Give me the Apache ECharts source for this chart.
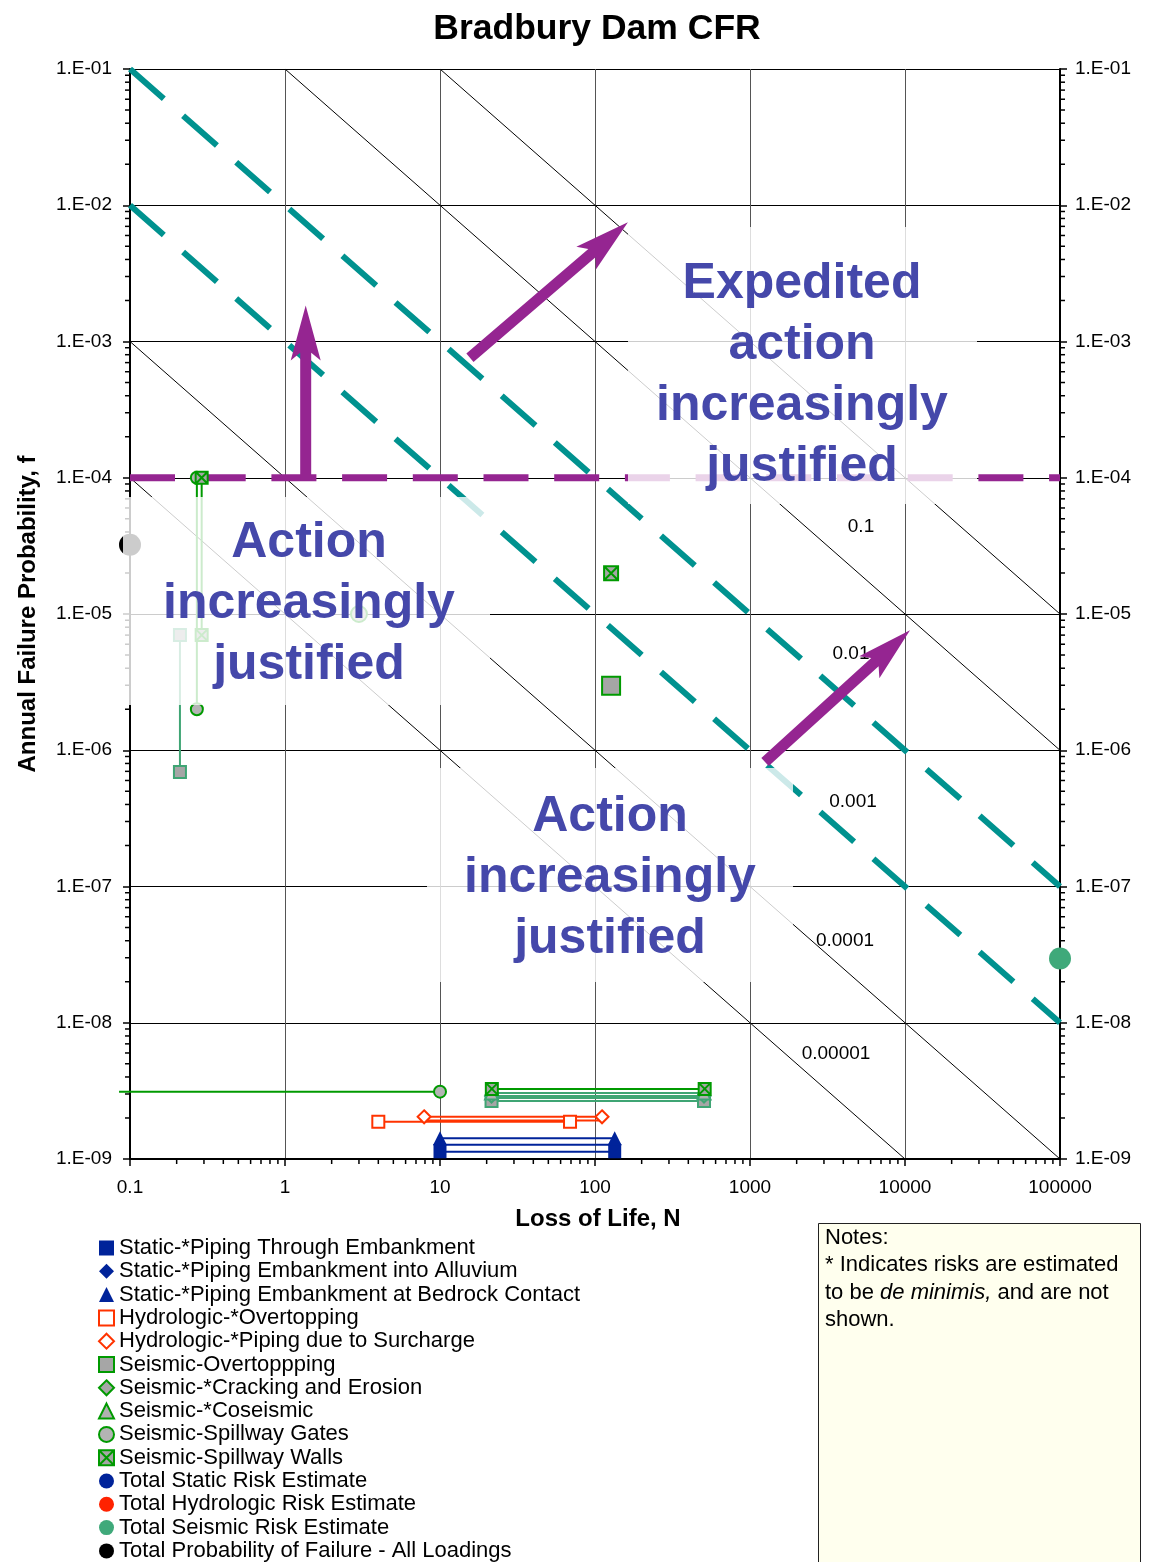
<!DOCTYPE html>
<html>
<head>
<meta charset="utf-8">
<script src="https://cdn.jsdelivr.net/npm/echarts@6/dist/echarts.min.js"></script>
<style>
  html, body { margin: 0; padding: 0; background: #fff; }
  #chart { width: 1155px; height: 1562px; }
</style>
</head>
<body>
<div id="chart"></div>
<script>
const FONT = '"Liberation Sans", Arial, Helvetica, sans-serif';

// Axis ranges and tick labels
const xMin = 0.1, xMax = 100000;
const yMin = 1e-9, yMax = 0.1;
const xTickLabels = ['0.1', '1', '10', '100', '1000', '10000', '100000'];
const yTickLabels = ['1.E-09', '1.E-08', '1.E-07', '1.E-06', '1.E-05', '1.E-04', '1.E-03', '1.E-02', '1.E-01'];

// Societal risk reference lines (f x N = constant)
const thinRiskLines = [1, 0.1, 0.0001, 0.00001];
const guidelineRiskLines = [0.01, 0.001];
const riskLabels = ['0.1', '0.01', '0.001', '0.0001', '0.00001'];
const annualFailureGuideline = 0.0001;

// Failure mode estimates, [N, f]
const staticThroughEmb   = [[10, 1.13e-9], [134, 1.13e-9]];
const staticIntoAlluvium = [[10, 1.27e-9], [134, 1.27e-9]];
const staticBedrock      = [[10, 1.42e-9], [134, 1.42e-9]];
const hydroOvertopping   = [[4.0, 1.88e-9], [69, 1.88e-9]];
const hydroSurcharge     = [[7.9, 2.04e-9], [111, 2.04e-9]];
const hydroSurchargeAlt  = [[7.9, 1.92e-9], [111, 1.92e-9]];
const seisOvertopping    = [127, 2.98e-6];
const seisOvertoppingF   = [[0.21, 7.0e-6], [0.21, 6.93e-7]];
const seisOvertoppingN   = [[21.5, 2.67e-9], [505, 2.67e-9]];
const seisTotalN         = [[21.5, 2.8e-9], [505, 2.8e-9]];
const seisCrackingN      = [[21.5, 2.9e-9], [505, 2.9e-9]];
const seisCoseismicN     = [[21.5, 3.05e-9], [505, 3.05e-9]];
const spillwayGates      = [3, 1.0e-5];
const spillwayGatesF     = [[0.27, 1.0e-4], [0.27, 2.0e-6]];
const spillwayGatesN     = [[0.085, 3.12e-9], [10, 3.12e-9]];
const spillwayWalls      = [127, 1.99e-5];
const spillwayWallsF     = [[0.29, 1.0e-4], [0.29, 7.0e-6]];
const spillwayWallsN     = [[21.6, 3.27e-9], [510, 3.27e-9]];
const totalSeismic       = [[100000, 2.96e-8]];
const totalAllLoadings   = [[0.1, 3.22e-5]];

// Annotation arrows: [N, f] of tail and head
const arrowPaths = [
  [1.36, 0.95e-4, 1.36, 1.84e-3],
  [15.6, 7.6e-4, 163, 7.5e-3],
  [1250, 8.2e-7, 10770, 7.6e-6]
];

const legendNames = [
  'Static-*Piping Through Embankment',
  'Static-*Piping Embankment into Alluvium',
  'Static-*Piping Embankment at Bedrock Contact',
  'Hydrologic-*Overtopping',
  'Hydrologic-*Piping due to Surcharge',
  'Seismic-Overtoppping',
  'Seismic-*Cracking and Erosion',
  'Seismic-*Coseismic',
  'Seismic-Spillway Gates',
  'Seismic-Spillway Walls',
  'Total Static Risk Estimate',
  'Total Hydrologic Risk Estimate',
  'Total Seismic Risk Estimate',
  'Total Probability of Failure - All Loadings'
];

const BLUE = '#00239a', RED = '#ff3300', GREEN = '#009a00', TEAL = '#3fa574';
const GRAY = '#a6a6a6', PURPLE = '#952591', DASH_TEAL = '#00928f';
const X_BOX = 'path://M0,0H10V10H0ZM0,0L10,10M10,0L0,10';

function riskLine(c) {
  const n0 = Math.max(xMin, c / yMax);
  const n1 = Math.min(xMax, c / yMin);
  return [[n0, c / n0], [n1, c / n1]];
}

function lineSeries(data, color, width, extra) {
  return Object.assign({
    type: 'line', data: data, symbol: 'none', silent: true, z: 3,
    lineStyle: { color: color, width: width }
  }, extra || {});
}

function markerSeries(name, symbol, data, itemStyle, size) {
  return {
    name: name, type: 'scatter', symbol: symbol, symbolSize: size, data: data,
    itemStyle: Object.assign({ opacity: 1 }, itemStyle), z: 4, silent: true
  };
}

// minor ticks 2..9 in every decade, on the bottom, left and right axes
const minorTicks = [];
for (let k = -1; k < 5; k++) for (let m = 2; m <= 9; m++) minorTicks.push([m * Math.pow(10, k), yMin, 0]);
for (let k = -9; k < -1; k++) for (let m = 2; m <= 9; m++) {
  minorTicks.push([xMin, m * Math.pow(10, k), 1]);
  minorTicks.push([xMax, m * Math.pow(10, k), 2]);
}

function renderMinorTick(params, api) {
  const p = api.coord([api.value(0), api.value(1)]);
  const side = api.value(2);
  let shape;
  if (side === 0) shape = { x1: p[0], y1: p[1], x2: p[0], y2: p[1] + 5 };
  else if (side === 1) shape = { x1: p[0] - 5, y1: p[1], x2: p[0], y2: p[1] };
  else shape = { x1: p[0], y1: p[1], x2: p[0] + 5, y2: p[1] };
  return { type: 'line', shape: shape, style: { stroke: '#000', lineWidth: 1.5 } };
}

function renderArrow(params, api) {
  const b = api.coord([api.value(0), api.value(1)]);
  const t = api.coord([api.value(2), api.value(3)]);
  const dx = t[0] - b[0], dy = t[1] - b[1];
  const len = Math.hypot(dx, dy);
  const ux = dx / len, uy = dy / len, nx = -uy, ny = ux;
  const L = 55, W = 15, notch = 12, s = 5.5;
  const hx = t[0] - ux * L, hy = t[1] - uy * L;
  const q = notch * (1 - s / W);
  const qx = hx + ux * q, qy = hy + uy * q;
  const pts = [
    [b[0] + nx * s, b[1] + ny * s], [qx + nx * s, qy + ny * s], [hx + nx * W, hy + ny * W],
    [t[0], t[1]],
    [hx - nx * W, hy - ny * W], [qx - nx * s, qy - ny * s], [b[0] - nx * s, b[1] - ny * s]
  ];
  return { type: 'polygon', shape: { points: pts }, style: { fill: PURPLE } };
}

// horizontal range of N that starts left of the axis minimum
function renderOpenRange(params, api) {
  const a = api.coord([api.value(0), api.value(1)]);
  const b = api.coord([api.value(2), api.value(3)]);
  return { type: 'line', shape: { x1: a[0], y1: a[1], x2: b[0], y2: b[1] },
    style: { stroke: GREEN, lineWidth: 2 } };
}

const series = [];

// reference risk lines
thinRiskLines.forEach(c => series.push(lineSeries(riskLine(c), '#000', 1, { z: 1 })));
guidelineRiskLines.forEach(c => series.push(lineSeries(riskLine(c), DASH_TEAL, 6, {
  z: 2, lineStyle: { color: DASH_TEAL, width: 6, type: [45, 25.7], cap: 'butt' }
})));
series.push(lineSeries([[xMin, annualFailureGuideline], [xMax, annualFailureGuideline]], PURPLE, 7, {
  z: 2, lineStyle: { color: PURPLE, width: 7, type: [45, 25.7], cap: 'butt' }
}));

// ranges of N and f
[staticThroughEmb, staticIntoAlluvium, staticBedrock].forEach(d => series.push(lineSeries(d, BLUE, 2)));
[hydroOvertopping, hydroSurcharge, hydroSurchargeAlt].forEach(d => series.push(lineSeries(d, RED, 2)));
[seisOvertoppingN, seisTotalN, seisCrackingN, seisCoseismicN, seisOvertoppingF].forEach(d => series.push(lineSeries(d, TEAL, 2)));
[spillwayGatesF, spillwayWallsF, spillwayWallsN].forEach(d => series.push(lineSeries(d, GREEN, 2)));
series.push({
  type: 'custom', renderItem: renderOpenRange, silent: true, z: 3, clip: false,
  data: [[spillwayGatesN[0][0], spillwayGatesN[0][1], spillwayGatesN[1][0], spillwayGatesN[1][1]]]
});

// failure mode markers
const tealEdge = { borderColor: TEAL };
const greyGreen = { color: GRAY, borderColor: GREEN, borderWidth: 2 };
series.push(markerSeries(legendNames[0], 'rect', staticThroughEmb, { color: BLUE }, 13));
series.push(markerSeries(legendNames[1], 'diamond', staticIntoAlluvium, { color: BLUE }, 14));
series.push(markerSeries(legendNames[2], 'triangle', staticBedrock, { color: BLUE }, 14));
series.push(markerSeries(legendNames[3], 'rect', hydroOvertopping, { color: '#fff', borderColor: RED, borderWidth: 2 }, 12));
series.push(markerSeries(legendNames[4], 'diamond', hydroSurcharge, { color: '#fff', borderColor: RED, borderWidth: 2 }, 13));
series.push(markerSeries(legendNames[5], 'rect', [
  { value: seisOvertopping, symbolSize: 18 },
  ...seisOvertoppingF.map(v => ({ value: v, itemStyle: tealEdge })),
  ...seisOvertoppingN.map(v => ({ value: v, itemStyle: tealEdge }))
], greyGreen, 12));
series.push(markerSeries(legendNames[6], 'diamond',
  seisCrackingN.map(v => ({ value: v, itemStyle: tealEdge })), greyGreen, 13));
series.push(markerSeries(legendNames[7], 'triangle',
  seisCoseismicN.map(v => ({ value: v, itemStyle: tealEdge })), Object.assign({}, greyGreen, { color: '#b0b0b0' }), 13));
series.push(markerSeries(legendNames[8], 'circle', [
  { value: spillwayGates, symbolSize: 16 },
  ...spillwayGatesF,
  spillwayGatesN[1]
], { color: '#b4b4b4', borderColor: GREEN, borderWidth: 2 }, 12));
series.push(markerSeries(legendNames[9], X_BOX, [
  { value: spillwayWalls, symbolSize: 14 },
  ...spillwayWallsF,
  ...spillwayWallsN
], greyGreen, 12));
series.push(markerSeries(legendNames[10], 'circle', [], { color: BLUE }, 14));
series.push(markerSeries(legendNames[11], 'circle', [], { color: '#ff2200' }, 14));
series.push(markerSeries(legendNames[12], 'circle', totalSeismic, { color: '#3fa97a' }, 22));
series.push(markerSeries(legendNames[13], 'circle', totalAllLoadings, { color: '#000' }, 22));

// minor axis ticks
series.push({
  type: 'custom', renderItem: renderMinorTick, data: minorTicks, silent: true, z: 0.5, clip: false
});
// action arrows
series.push({
  type: 'custom', renderItem: renderArrow, data: arrowPaths, silent: true, z: 102, clip: false
});

function expLabel(v, labels, offset) {
  const e = Math.round(Math.log10(v));
  return labels[e + offset] || '';
}

const axisText = { fontSize: 19, fontFamily: FONT, color: '#000' };

function overlayBox(x, y, w, h) {
  return { type: 'rect', z: 100, silent: true, shape: { x: x, y: y, width: w, height: h },
    style: { fill: 'rgba(255,255,255,0.8)' } };
}
function zoneText(x, y, text) {
  return { type: 'text', z: 101, silent: true, x: x, y: y,
    style: { text: text, fontSize: 50, fontWeight: 'bold', fontFamily: FONT, fill: '#4548aa',
      align: 'center', verticalAlign: 'middle', lineHeight: 61 } };
}
function riskText(x, y, i) {
  return { type: 'text', z: 6, silent: true, x: x, y: y,
    style: { text: riskLabels[i], fontSize: 19, fontFamily: FONT, fill: '#000', align: 'center', verticalAlign: 'middle' } };
}

const option = {
  animation: false,
  backgroundColor: '#fff',
  grid: { left: 130, right: 95, top: 69, bottom: 403, containLabel: false },
  xAxis: {
    type: 'log', logBase: 10, min: xMin, max: xMax, splitNumber: 10, z: 0,
    axisLine: { show: true, onZero: false, lineStyle: { color: '#000', width: 2 } },
    axisTick: { show: true, inside: false, length: 7, lineStyle: { color: '#000', width: 1.5 } },
    axisLabel: Object.assign({ margin: 19, showMinLabel: true, showMaxLabel: true,
      formatter: v => expLabel(v, xTickLabels, 1) }, axisText),
    splitLine: { show: true, lineStyle: { color: '#555', width: 1 } },
    minorTick: { show: false }, minorSplitLine: { show: false }
  },
  yAxis: [{
    type: 'log', logBase: 10, min: yMin, max: yMax, splitNumber: 10, position: 'left', z: 0,
    axisLine: { show: true, onZero: false, lineStyle: { color: '#000', width: 2 } },
    axisTick: { show: true, inside: false, length: 7, lineStyle: { color: '#000', width: 1.5 } },
    axisLabel: Object.assign({ margin: 18, showMinLabel: true, showMaxLabel: true,
      formatter: v => expLabel(v, yTickLabels, 9) }, axisText),
    splitLine: { show: true, lineStyle: { color: '#000', width: 1 } }
  }, {
    type: 'log', logBase: 10, min: yMin, max: yMax, splitNumber: 10, position: 'right', z: 0,
    axisLine: { show: true, onZero: false, lineStyle: { color: '#000', width: 2 } },
    axisTick: { show: true, inside: false, length: 7, lineStyle: { color: '#000', width: 1.5 } },
    axisLabel: Object.assign({ margin: 15, showMinLabel: true, showMaxLabel: true,
      formatter: v => expLabel(v, yTickLabels, 9) }, axisText),
    splitLine: { show: false }
  }],
  legend: {
    data: legendNames, orient: 'vertical', left: 98, top: 1237, padding: 0,
    itemWidth: 15, itemHeight: 15, itemGap: 1.3, selectedMode: false,
    textStyle: { fontSize: 22, fontFamily: FONT, color: '#000', lineHeight: 22 }
  },
  graphic: [
    { type: 'text', x: 597, y: 29, silent: true,
      style: { text: 'Bradbury Dam CFR', fontSize: 35.5, fontWeight: 'bold', fontFamily: FONT, fill: '#000',
        align: 'center', verticalAlign: 'middle' } },
    { type: 'text', x: 28, y: 614, rotation: Math.PI / 2, silent: true,
      style: { text: 'Annual Failure Probability, f', fontSize: 24, fontWeight: 'bold', fontFamily: FONT, fill: '#000',
        align: 'center', verticalAlign: 'middle' } },
    { type: 'text', x: 598, y: 1219, silent: true,
      style: { text: 'Loss of Life, N', fontSize: 24, fontWeight: 'bold', fontFamily: FONT, fill: '#000',
        align: 'center', verticalAlign: 'middle' } },
    riskText(861, 527, 0),
    riskText(851, 654, 1),
    riskText(853, 802, 2),
    riskText(845, 941, 3),
    riskText(836, 1054, 4),
    overlayBox(628, 227, 349, 277),
    overlayBox(123, 497, 367, 208),
    overlayBox(427, 768, 366, 214),
    zoneText(802, 376, 'Expedited\naction\nincreasingly\njustified'),
    zoneText(309, 604, 'Action\nincreasingly\njustified'),
    zoneText(610, 878, 'Action\nincreasingly\njustified'),
    { type: 'rect', silent: true, shape: { x: 818.5, y: 1223.5, width: 322, height: 360 },
      style: { fill: '#ffffee', stroke: '#222', lineWidth: 1 } },
    { type: 'text', x: 825, y: 1224, silent: true,
      style: {
        text: 'Notes:\n* Indicates risks are estimated\nto be {i|de minimis,} and are not\nshown.',
        fontSize: 22, fontFamily: FONT, fill: '#000', lineHeight: 27.5, align: 'left', verticalAlign: 'top',
        rich: { i: { fontSize: 22, fontFamily: FONT, fontStyle: 'italic', fill: '#000', lineHeight: 27.5 } }
      } }
  ],
  series: series
};

const chart = echarts.init(document.getElementById('chart'), null, { renderer: 'canvas' });
chart.setOption(option);
</script>
</body>
</html>
